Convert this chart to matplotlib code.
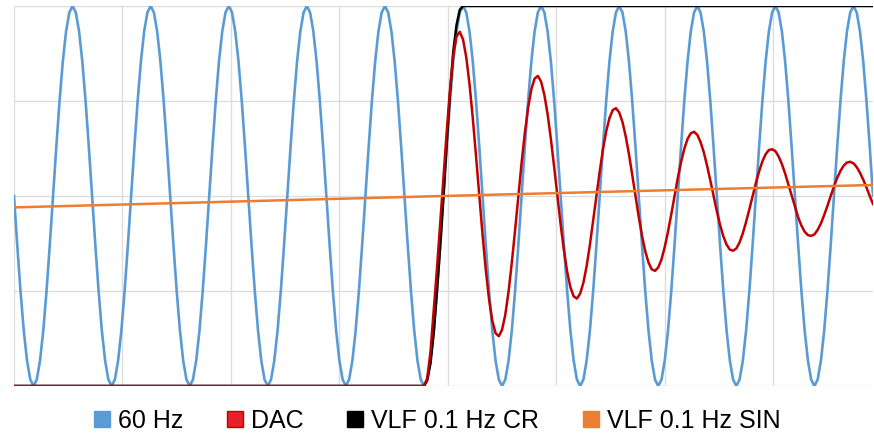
import numpy as np
import matplotlib.pyplot as plt
from matplotlib.lines import Line2D

plt.rcParams['font.family'] = ['Liberation Sans', 'DejaVu Sans']

# x axis: phase of the 60 Hz wave in degrees, one sample every 15 deg
phase = np.arange(0, 3961, 15)

# 60 Hz wave (0..100)
hz60 = [
    50, 37.1, 25, 14.6, 6.7, 1.7, 0, 1.7, 6.7, 14.6, 25, 37.1, 50, 62.9, 75, 85.4, 93.3, 98.3, 100, 98.3, 93.3, 85.4, 75, 62.9,
    50, 37.1, 25, 14.6, 6.7, 1.7, 0, 1.7, 6.7, 14.6, 25, 37.1, 50, 62.9, 75, 85.4, 93.3, 98.3, 100, 98.3, 93.3, 85.4, 75, 62.9,
    50, 37.1, 25, 14.6, 6.7, 1.7, 0, 1.7, 6.7, 14.6, 25, 37.1, 50, 62.9, 75, 85.4, 93.3, 98.3, 100, 98.3, 93.3, 85.4, 75, 62.9,
    50, 37.1, 25, 14.6, 6.7, 1.7, 0, 1.7, 6.7, 14.6, 25, 37.1, 50, 62.9, 75, 85.4, 93.3, 98.3, 100, 98.3, 93.3, 85.4, 75, 62.9,
    50, 37.1, 25, 14.6, 6.7, 1.7, 0, 1.7, 6.7, 14.6, 25, 37.1, 50, 62.9, 75, 85.4, 93.3, 98.3, 100, 98.3, 93.3, 85.4, 75, 62.9,
    50, 37.1, 25, 14.6, 6.7, 1.7, 0, 1.7, 6.7, 14.6, 25, 37.1, 50, 62.9, 75, 85.4, 93.3, 98.3, 100, 98.3, 93.3, 85.4, 75, 62.9,
    50, 37.1, 25, 14.6, 6.7, 1.7, 0, 1.7, 6.7, 14.6, 25, 37.1, 50, 62.9, 75, 85.4, 93.3, 98.3, 100, 98.3, 93.3, 85.4, 75, 62.9,
    50, 37.1, 25, 14.6, 6.7, 1.7, 0, 1.7, 6.7, 14.6, 25, 37.1, 50, 62.9, 75, 85.4, 93.3, 98.3, 100, 98.3, 93.3, 85.4, 75, 62.9,
    50, 37.1, 25, 14.6, 6.7, 1.7, 0, 1.7, 6.7, 14.6, 25, 37.1, 50, 62.9, 75, 85.4, 93.3, 98.3, 100, 98.3, 93.3, 85.4, 75, 62.9,
    50, 37.1, 25, 14.6, 6.7, 1.7, 0, 1.7, 6.7, 14.6, 25, 37.1, 50, 62.9, 75, 85.4, 93.3, 98.3, 100, 98.3, 93.3, 85.4, 75, 62.9,
    50, 37.1, 25, 14.6, 6.7, 1.7, 0, 1.7, 6.7, 14.6, 25, 37.1, 50, 62.9, 75, 85.4, 93.3, 98.3, 100, 98.3, 93.3, 85.4, 75, 62.9,
    50,
]

# DAC: flat at 0, then rises from 1890 deg and rings down
dac_x = [0] + list(range(1890, 3961, 15))
dac = [
    0,
    0, 2, 9, 20, 31, 43, 55, 67, 78, 87, 92,
    93.2, 91.2, 86.5, 79.4, 70.5, 60.5, 50.0, 39.8, 30.5, 22.8, 17.2, 13.9,
    13.1, 14.8, 18.8, 24.9, 32.5, 41.0, 50.0, 58.7, 66.6, 73.2, 78.1, 80.9,
    81.6, 80.1, 76.6, 71.5, 65.0, 57.7, 50.0, 42.5, 35.8, 30.1, 26.0, 23.6,
    23.0, 24.3, 27.2, 31.6, 37.2, 43.5, 50.0, 56.4, 62.2, 67.0, 70.5, 72.6,
    73.1, 72.0, 69.5, 65.7, 61.0, 55.6, 50.0, 44.5, 39.6, 35.5, 32.5, 30.7,
    30.3, 31.2, 33.3, 36.6, 40.6, 45.2, 50.0, 54.7, 58.9, 62.4, 65.0, 66.5,
    66.9, 66.1, 64.2, 61.5, 58.0, 54.1, 50.0, 46.0, 42.4, 39.4, 37.2, 35.9,
    35.6, 36.2, 37.8, 40.2, 43.2, 46.5, 50.0, 53.4, 56.5, 59.1, 61.0, 62.1,
    62.3, 61.8, 60.4, 58.4, 55.9, 53.0, 50.0, 47.1, 44.4, 42.2, 40.6, 39.7,
    39.5, 39.9, 41.1, 42.8, 45.0, 47.4, 50.0, 52.5, 54.8, 56.6, 58.0, 58.8,
    59.0, 58.6, 57.6, 56.1, 54.3, 52.2, 50.0, 47.9,
]

# VLF 0.1 Hz cosine-rectangular: a step
cr_x = [0] + list(range(1890, 2071, 15)) + [3960]
cr = [0, 0, 1.5, 6, 14, 25, 37, 50, 64, 77, 88, 95, 99, 100, 100]

# VLF 0.1 Hz sine: nearly straight over this window
sin_x = [0, 1980, 3960]
vlf_sin = [47.0, 50.0, 52.9]

labels = ['60 Hz', 'DAC', 'VLF 0.1 Hz CR', 'VLF 0.1 Hz SIN']
colors = ['#5B9BD5', '#C00000', '#000000', '#ED7D31']
legend_fill = ['#5B9BD5', '#E8202A', '#000000', '#ED7D31']

fig = plt.figure(figsize=(8.74, 4.36), dpi=100)
ax = fig.add_axes([14 / 874, 1 - 386 / 436, 859 / 874, 380 / 436])

ax.plot(phase, hz60, color=colors[0], lw=1.9, zorder=2)
ax.plot(cr_x, cr, color=colors[2], lw=1.8, zorder=3)
ax.plot(dac_x, dac, color=colors[1], lw=1.8, zorder=4)
ax.plot(sin_x, vlf_sin, color=colors[3], lw=1.8, zorder=5)

ax.set_xlim(0, 3960)
ax.set_ylim(0, 100)
ax.set_xticks(range(0, 3960, 500))
ax.set_yticks([0, 25, 50, 75, 100])
ax.grid(True, color='#DDDDDD', lw=1)
ax.tick_params(length=0, labelbottom=False, labelleft=False)
for s in ax.spines.values():
    s.set_visible(False)

handles = [Line2D([], [], ls='none', marker='s', markersize=11,
                  markerfacecolor=f, markeredgecolor=c, markeredgewidth=1)
           for f, c in zip(legend_fill, colors)]
fig.legend(handles, labels, loc='center', bbox_to_anchor=(0.5, 0.035), ncol=4,
           frameon=False, fontsize=18, handlelength=0.7, handletextpad=0.3,
           columnspacing=1.7, borderpad=0)

plt.savefig('out.png', dpi=100)
